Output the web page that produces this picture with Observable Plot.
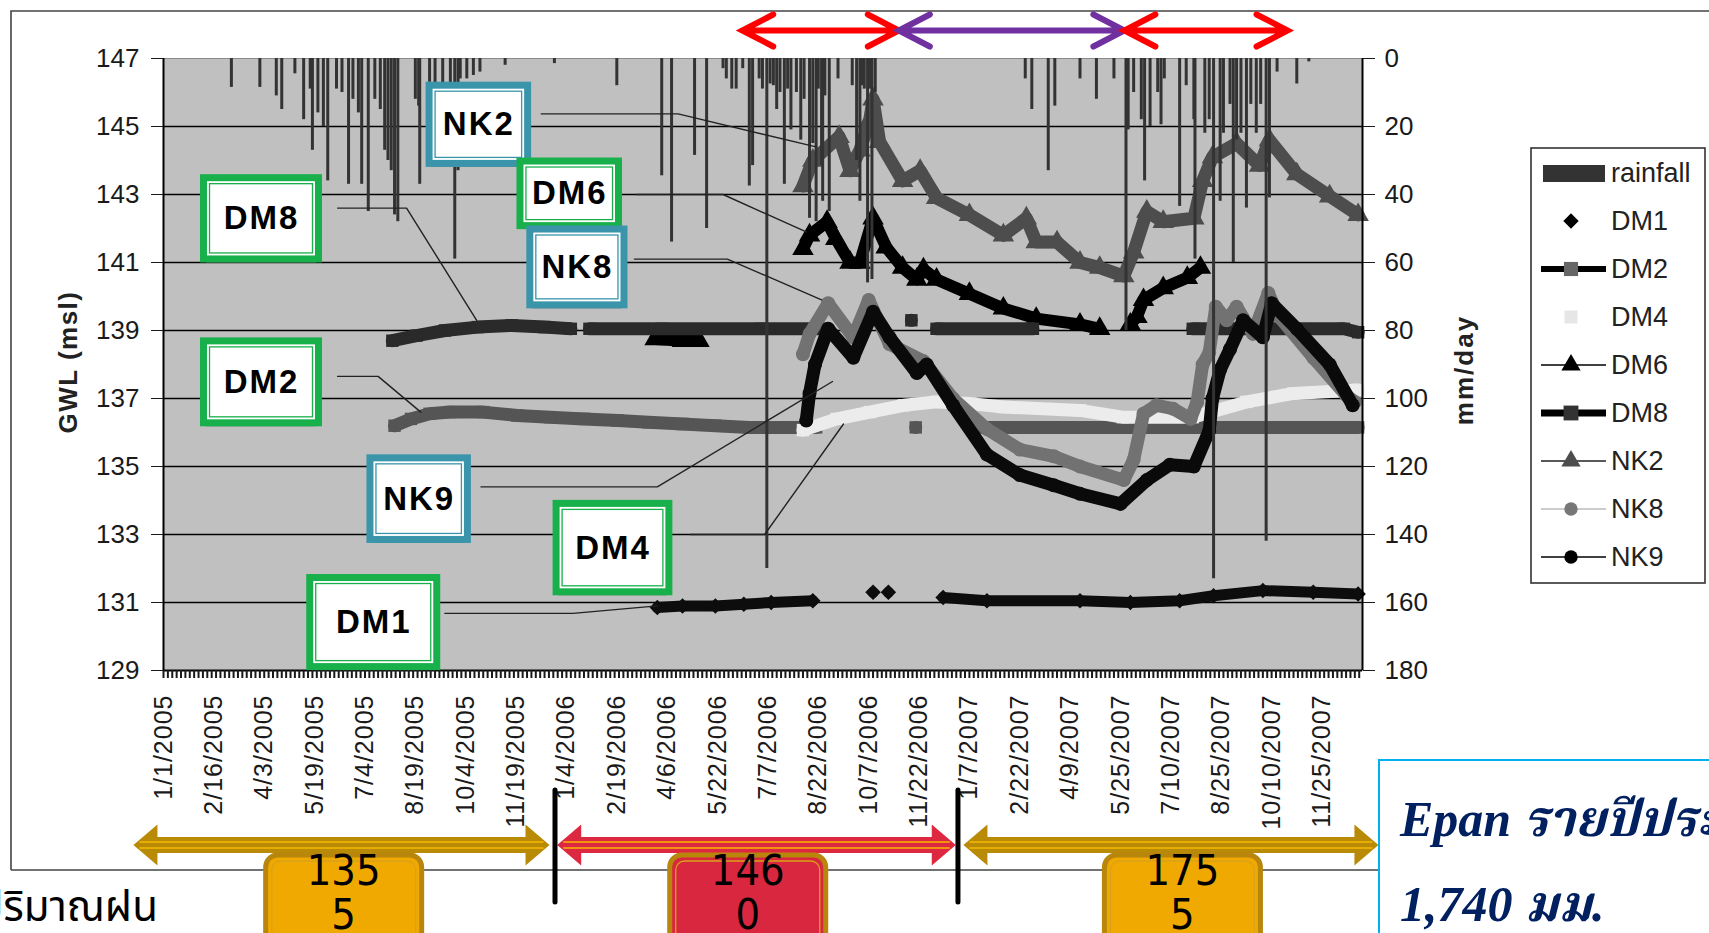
<!DOCTYPE html>
<html><head><meta charset="utf-8">
<script src="https://cdn.jsdelivr.net/npm/d3@7"></script>
<script src="https://cdn.jsdelivr.net/npm/@observablehq/plot@0.6"></script>
<style>
html,body{margin:0;padding:0;background:#fff;overflow:hidden;}
#chart{position:relative;width:1709px;height:933px;overflow:hidden;background:#fff;}
#chart svg{position:absolute;left:0;top:0;}
</style></head><body><div id="chart"></div>
<script>
// ---------------- data ----------------
const xTickLabels = ["1/1/2005","2/16/2005","4/3/2005","5/19/2005","7/4/2005","8/19/2005","10/4/2005","11/19/2005",
  "1/4/2006","2/19/2006","4/6/2006","5/22/2006","7/7/2006","8/22/2006","10/7/2006","11/22/2006",
  "1/7/2007","2/22/2007","4/9/2007","5/25/2007","7/10/2007","8/25/2007","10/10/2007","11/25/2007"];
const gwlTicks = [129,131,133,135,137,139,141,143,145,147];
const rainTicks = [0,20,40,60,80,100,120,140,160,180];

const rainDates = ["2005-03-04","2005-03-30","2005-04-14","2005-04-19","2005-05-01","2005-05-09","2005-05-15","2005-05-17","2005-05-22","2005-05-27","2005-05-31",
 "2005-06-08","2005-06-13","2005-06-19","2005-06-23","2005-06-28","2005-07-01","2005-07-07","2005-07-13","2005-07-18","2005-07-22","2005-07-25","2005-07-28","2005-07-31",
 "2005-08-03","2005-08-19","2005-08-22","2005-08-23","2005-09-01","2005-09-06","2005-09-13","2005-09-20","2005-09-24","2005-09-27","2005-09-29","2005-10-05","2005-10-11",
 "2005-10-17","2005-11-09","2005-12-24","2006-02-19","2006-04-01","2006-04-10","2006-05-01","2006-05-12","2006-05-27","2006-05-30","2006-06-04","2006-06-08","2006-06-14",
 "2006-06-20","2006-06-23","2006-06-29","2006-07-02","2006-07-06","2006-07-09","2006-07-12","2006-07-15","2006-07-18","2006-07-22","2006-07-25","2006-07-28","2006-08-02",
 "2006-08-06","2006-08-09","2006-08-14","2006-08-17","2006-08-20","2006-08-22","2006-08-25","2006-08-26","2006-08-28","2006-09-01","2006-09-09","2006-09-22","2006-09-26",
 "2006-09-29","2006-10-01","2006-10-03","2006-10-06","2006-10-08","2006-10-10","2006-10-13","2007-02-27","2007-03-05","2007-03-20","2007-03-26","2007-04-18","2007-05-03",
 "2007-05-19","2007-05-30","2007-06-01","2007-06-06","2007-06-13","2007-06-16","2007-06-21","2007-06-28","2007-07-01","2007-07-04","2007-07-18","2007-07-24","2007-07-31",
 "2007-08-01","2007-08-10","2007-08-14","2007-08-18","2007-08-24","2007-08-27","2007-09-02","2007-09-05","2007-09-08","2007-09-12","2007-09-17","2007-09-21","2007-09-26",
 "2007-09-30","2007-10-05","2007-10-08","2007-10-15","2007-11-02","2007-11-13"];
const rainMm = [8.5,8.5,11,15,4.5,18,9,27,16,20,36,
 9,10,37,12,16,37,45,12,15,27,30,33,46,
 48,12,14,37,7,18,9,12,59,33,6,6,5,
 4,2,1.5,8,34.5,54,28.5,50,3,6,9,9,3,
 37.5,31.5,6,9,150,7.5,8,15,10,37,9,21,10,
 24,12,47,25,48,9,31.5,42,11,45,6,8,30,
 42,8,9,66,9,65,10,6,15,33,14,6,12,
 6,80,21,10,18,36,20,10,19.5,6,43.5,8,18,
 59,22,18,153,42,22,13.5,60,24,22,44,13.5,22,
 13.5,142,41,4,7.5,1];

const dm1Dates = ["2006-03-28","2006-04-20","2006-05-20","2006-06-15","2006-07-10","2006-08-17","2006-09-15","2006-10-11","2006-10-18","2006-10-25","2006-11-20",
 "2006-12-14","2007-01-23","2007-04-18","2007-06-03","2007-07-18","2007-08-18","2007-10-02","2007-11-17","2007-12-28"];
const dm1Gwl = [130.85,130.9,130.9,130.95,131.0,131.05,null,131.3,null,131.3,null,
 131.15,131.05,131.05,131.0,131.05,131.2,131.35,131.3,131.25];

const dm2Dates = ["2005-07-31","2005-08-15","2005-09-01","2005-09-20","2005-10-20","2005-11-20","2005-12-20","2006-01-20","2006-02-20","2006-03-20","2006-04-20",
 "2006-05-20","2006-06-20","2006-08-20","2006-09-20","2006-11-19","2006-12-20","2007-01-19","2007-12-28"];
const dm2Gwl = [136.2,136.4,136.55,136.6,136.6,136.5,136.45,136.4,136.35,136.3,136.25,
 136.2,136.15,136.15,null,136.15,null,136.15,136.15];

const dm4Dates = ["2006-08-08","2006-09-08","2006-10-08","2006-11-08","2006-12-08","2007-01-08","2007-02-07","2007-04-18","2007-05-27","2007-07-30","2007-09-17","2007-10-30","2007-12-28"];
const dm4Gwl = [136.07,136.4,136.6,136.8,136.9,136.85,136.75,136.65,136.45,136.45,136.9,137.15,137.25];

const dm6Dates = ["2006-03-26","2006-04-20","2006-05-05","2006-06-20","2006-08-08","2006-08-14","2006-08-30","2006-09-07","2006-09-20","2006-09-29","2006-10-11",
 "2006-10-23","2006-11-07","2006-11-20","2006-11-26","2006-12-08","2007-01-07","2007-02-07","2007-03-09","2007-04-18","2007-05-06","2007-05-20",
 "2007-06-03","2007-06-09","2007-06-15","2007-07-03","2007-07-25","2007-08-06"];
const dm6Gwl = [138.75,138.7,138.7,null,141.4,141.8,142.2,141.7,141.0,141.0,142.3,
 141.45,140.85,140.5,140.8,140.5,140.08,139.65,139.35,139.18,139.05,null,
 139.18,139.4,139.9,140.25,140.55,140.85];

const dm8Dates = ["2005-07-29","2005-08-20","2005-09-15","2005-10-15","2005-11-15","2005-12-15","2006-01-08","2006-01-15","2006-01-25","2006-04-01","2006-07-01",
 "2006-08-25","2006-09-20","2006-11-15","2006-11-25","2006-12-08","2007-03-06","2007-05-01","2007-07-30","2007-12-15","2007-12-28"];
const dm8Gwl = [138.7,138.85,139.0,139.1,139.15,139.1,139.05,null,139.05,139.05,139.05,
 139.05,null,139.3,null,139.05,139.05,null,139.05,139.05,138.95];

const nk2Dates = ["2006-08-08","2006-08-17","2006-09-10","2006-09-20","2006-09-29","2006-10-08","2006-10-11","2006-10-17","2006-11-07","2006-11-23","2006-12-08",
 "2007-01-07","2007-02-07","2007-02-28","2007-03-09","2007-03-28","2007-04-18","2007-05-06","2007-05-28","2007-06-06","2007-06-18","2007-07-03","2007-07-31",
 "2007-08-08","2007-08-17","2007-09-08","2007-09-29","2007-10-08","2007-11-02","2007-12-02","2007-12-28"];
const nk2Gwl = [143.25,144.0,144.7,143.7,144.3,145.2,145.8,144.55,143.4,143.7,142.9,
 142.4,141.8,142.3,141.6,141.6,141.0,140.85,140.6,141.3,142.5,142.2,142.3,
 143.4,144.1,144.5,143.85,144.6,143.6,142.95,142.4];

const nk8Dates = ["2006-08-08","2006-08-14","2006-08-31","2006-09-23","2006-10-07","2006-10-26","2006-11-26","2006-12-23","2007-01-23","2007-02-22","2007-03-25",
 "2007-04-18","2007-05-28","2007-06-06","2007-06-15","2007-06-27","2007-07-12","2007-07-28","2007-08-03","2007-08-08","2007-08-14","2007-08-20","2007-08-30",
 "2007-09-08","2007-09-23","2007-10-07","2007-10-17","2007-11-17","2007-12-17","2007-12-25"];
const nk8Gwl = [138.3,138.9,139.8,138.8,139.9,138.6,138.1,137.0,136.1,135.5,135.3,
 135.0,134.6,135.2,136.55,136.8,136.7,136.4,136.9,138.0,138.35,139.7,139.3,
 139.7,138.9,140.1,139.4,138.2,137.1,136.9];

const nk9Dates = ["2006-08-11","2006-08-14","2006-08-19","2006-08-31","2006-09-23","2006-10-11","2006-10-26","2006-11-20","2006-11-29","2006-12-23","2007-01-23",
 "2007-02-22","2007-03-25","2007-04-18","2007-05-25","2007-06-18","2007-07-09","2007-07-31","2007-08-14","2007-08-17","2007-08-24","2007-09-02",
 "2007-09-14","2007-10-02","2007-10-10","2007-11-02","2007-12-02","2007-12-23"];
const nk9Gwl = [136.35,137.15,138.0,139.05,138.2,139.55,138.8,137.75,138.0,136.8,135.35,
 134.75,134.45,134.2,133.9,134.6,135.05,135.0,136.05,137.0,137.85,138.45,
 139.3,138.8,139.8,139.05,138.0,136.8];

// callout boxes (data space) and their leader lines
const calloutNames  = ["NK2","DM6","NK8","DM8","DM2","NK9","DM4","DM1"];
const calloutFrom   = ["2005-09-01","2005-11-23","2005-12-02","2005-02-07","2005-02-07","2005-07-09","2005-12-26","2005-05-15"];
const calloutTo     = ["2005-11-30","2006-02-21","2006-02-26","2005-05-23","2005-05-23","2005-10-06","2006-04-08","2005-09-08"];
const calloutTop    = [146.2,143.97,141.97,143.48,138.68,135.24,133.9,131.72];
const calloutBottom = [143.9,142.07,139.74,141.09,136.27,132.84,131.3,129.1];
const leaderNames = ["NK2","NK2","NK2","DM6","DM6","DM6","NK8","NK8","NK8","DM8","DM8","DM8","DM2","DM2","DM2","NK9","NK9","NK9","DM4","DM4","DM4","DM1","DM1","DM1"];
const leaderDates = ["2005-12-12","2006-04-16","2006-08-20","2006-03-09","2006-05-27","2006-08-11","2006-03-07","2006-05-31","2006-08-25",
 "2005-06-09","2005-08-11","2005-10-14","2005-06-09","2005-07-16","2005-08-24","2005-10-18","2006-03-28","2006-09-04",
 "2006-04-27","2006-07-04","2006-09-14","2005-09-15","2006-01-10","2006-03-28"];
const leaderGwl = [145.37,145.37,144.4,143.0,143.0,141.9,141.1,141.1,139.9,142.6,142.6,139.3,137.65,137.65,136.6,134.4,134.4,137.5,133.0,133.0,136.25,130.68,130.68,130.9];

// season arrows (top) and yearly rainfall (bottom)
const seasonStart = ["2006-06-14","2006-11-04","2007-05-29"];
const seasonEnd   = ["2006-11-04","2007-05-29","2007-10-25"];
const seasonKind  = ["wet","dry","wet"];
const yearArrowStart = ["2004-12-05","2005-12-27","2007-01-02"];
const yearArrowEnd   = ["2005-12-20","2006-12-26","2008-01-16"];
const yearBoxCenter  = ["2005-06-15","2006-06-19","2007-07-21"];
const yearRainfall   = ["1355","1460","1755"];
const yearSeparators = ["2005-12-25","2006-12-28"];
const legendNames = ["rainfall","DM1","DM2","DM4","DM6","DM8","NK2","NK8","NK9"];

// ---------------- build ----------------
const P = s => new Date(s + "T00:00:00Z");
const PL = s => { const [m, d, y] = s.split("/").map(Number); return new Date(Date.UTC(y, m - 1, d)); };
const gMin = 129, gMax = 147, rMax = 180;
const rainToGwl = mm => gMax - mm * (gMax - gMin) / rMax;

const rows = (name, dates, vals) => dates.map((d, i) => ({name, date: P(d), v: vals[i] == null ? NaN : vals[i]}));
const series = [
  ["DM1", rows("DM1", dm1Dates, dm1Gwl)],
  ["DM2", rows("DM2", dm2Dates, dm2Gwl)],
  ["DM4", rows("DM4", dm4Dates, dm4Gwl)],
  ["DM6", rows("DM6", dm6Dates, dm6Gwl)],
  ["DM8", rows("DM8", dm8Dates, dm8Gwl)],
  ["NK2", rows("NK2", nk2Dates, nk2Gwl)],
  ["NK8", rows("NK8", nk8Dates, nk8Gwl)],
  ["NK9", rows("NK9", nk9Dates, nk9Gwl)]
];
const style = {
  DM1: {stroke: "#0d0d0d", w: 11, symbol: "diamond2", r: 7},
  DM2: {stroke: "#555555", w: 13, symbol: "square", r: 7},
  DM4: {stroke: "#ececec", w: 13, symbol: "square", r: 7},
  DM6: {stroke: "#000000", w: 12, symbol: "triangle", r: 8},
  DM8: {stroke: "#2a2a2a", w: 13, symbol: "square", r: 7},
  NK2: {stroke: "#4d4d4d", w: 13, symbol: "triangle", r: 8},
  NK8: {stroke: "#727272", w: 13, symbol: "circle", r: 7},
  NK9: {stroke: "#0a0a0a", w: 13, symbol: "circle", r: 7}
};
const rain = rainDates.map((d, i) => ({date: P(d), mm: rainMm[i]}));
const callouts = calloutNames.map((n, i) => ({name: n, x1: P(calloutFrom[i]), x2: P(calloutTo[i]), y1: calloutBottom[i], y2: calloutTop[i],
  xm: new Date((P(calloutFrom[i]).getTime() + P(calloutTo[i]).getTime()) / 2), ym: (calloutBottom[i] + calloutTop[i]) / 2}));
const leaders = leaderNames.map((n, i) => ({name: n, date: P(leaderDates[i]), v: leaderGwl[i]}));
const boxColor = n => n.startsWith("NK") ? "#3a95ab" : "#18b04a";
const xTickDates = xTickLabels.map(PL);
const labelOf = new Map(xTickDates.map((d, i) => [+d, xTickLabels[i]]));
const xStart = P("2005-01-01"), xEnd = P("2008-01-01");
const minorTicks = d3.utcDay.range(xStart, xEnd, 4);
const font = "Liberation Sans, Arial, sans-serif";

const marks = [
  Plot.frame({fill: "#c0c0c0", stroke: "#8a8a8a"}),
  Plot.ruleY(gwlTicks.filter(v => v > gMin && v < gMax), {stroke: "#000", strokeWidth: 1.3})
];
for (const [name, data] of series) {
  const s = style[name];
  marks.push(Plot.line(data, {x: "date", y: "v", stroke: s.stroke, strokeWidth: s.w, strokeLinejoin: "round", strokeLinecap: "round"}));
  marks.push(Plot.dot(data.filter(d => !isNaN(d.v)), {x: "date", y: "v", symbol: s.symbol, r: s.r, fill: s.stroke}));
}
marks.push(
  Plot.ruleX(rain, {x: "date", y1: gMax, y2: d => rainToGwl(d.mm), stroke: "#333", strokeWidth: 3}),
  Plot.ruleY([gMin], {stroke: "#000", strokeWidth: 2}),
  Plot.ruleX([xStart, xEnd], {stroke: "#000", strokeWidth: 2}),
  Plot.axisY({anchor: "left", ticks: gwlTicks, tickSize: 12, tickPadding: 12, fontSize: 26, label: null, fontFamily: font}),
  Plot.axisY({anchor: "right", ticks: rainTicks.map(rainToGwl), tickFormat: v => String(Math.round((gMax - v) * rMax / (gMax - gMin))),
    tickSize: 12, tickPadding: 10, fontSize: 26, label: null, fontFamily: font}),
  Plot.axisX({ticks: minorTicks, tickSize: 8, tickFormat: () => "", strokeWidth: 2, label: null}),
  Plot.axisX({ticks: xTickDates, tickFormat: d => labelOf.get(+d), tickRotate: -90, tickSize: 0, tickPadding: 24, fontSize: 25, label: null, fontFamily: font}),
  Plot.line(leaders, {x: "date", y: "v", z: "name", stroke: "#222", strokeWidth: 1.4}),
  Plot.rect(callouts, {x1: "x1", x2: "x2", y1: "y1", y2: "y2", fill: "#fff", stroke: "#777", strokeWidth: 1, dy: 6, inset: 3}),
  Plot.rect(callouts, {x1: "x1", x2: "x2", y1: "y1", y2: "y2", fill: "#fff", stroke: d => boxColor(d.name), strokeWidth: 7}),
  Plot.rect(callouts, {x1: "x1", x2: "x2", y1: "y1", y2: "y2", fill: "none", stroke: d => boxColor(d.name), strokeWidth: 1.3, inset: 6}),
  Plot.text(callouts, {x: "xm", y: "ym", text: "name", fontSize: 33, fontWeight: "bold", fill: "#000", fontFamily: font})
);

const plot = Plot.plot({
  width: 1709, height: 933,
  marginLeft: 163, marginRight: 347, marginTop: 58, marginBottom: 263,
  x: {type: "utc", domain: [xStart, xEnd]},
  y: {domain: [gMin, gMax]},
  style: {background: "transparent", overflow: "visible", fontFamily: font, color: "#1a1a1a"},
  marks
});
document.getElementById("chart").appendChild(plot);

const svg = d3.select(plot);
svg.selectAll("g[aria-label='x-axis tick label'] text").attr("letter-spacing", 1);
svg.selectAll("g[aria-label='text'] text").attr("letter-spacing", 2);
const xs = plot.scale("x");
const X = s => xs.apply(P(s));
const g = svg.append("g").attr("text-anchor", "start");

// outer frame
g.append("path").attr("d", "M11,870V11H1709 M11,870H1379").attr("fill", "none").attr("stroke", "#444").attr("stroke-width", 1.6);

// axis titles
g.append("text").attr("transform", "translate(70,362) rotate(-90)").attr("text-anchor", "middle").attr("dominant-baseline", "middle")
  .attr("font-family", font).attr("font-weight", "bold").attr("font-size", 26).attr("letter-spacing", 1.5).attr("fill", "#222").text("GWL (msl)");
g.append("text").attr("transform", "translate(1466,370) rotate(-90)").attr("text-anchor", "middle").attr("dominant-baseline", "middle")
  .attr("font-family", font).attr("font-weight", "bold").attr("font-size", 26).attr("letter-spacing", 2).attr("fill", "#222").text("mm/day");

// season arrows
const seasonColor = {wet: "#ff0000", dry: "#7030a0"};
seasonStart.forEach((s, i) => {
  const x1 = X(s), x2 = X(seasonEnd[i]), y = 30.5, ax = 31, ay = 16;
  g.append("path").attr("d", `M${x1},${y}H${x2}M${x1 + ax},${y - ay}L${x1},${y}L${x1 + ax},${y + ay}M${x2 - ax},${y - ay}L${x2},${y}L${x2 - ax},${y + ay}`)
    .attr("fill", "none").attr("stroke", seasonColor[seasonKind[i]]).attr("stroke-width", 6).attr("stroke-linecap", "round");
});

// yearly arrows
const yearFill = ["#b98a06", "#dc2840", "#b98a06"];
const yearBox = ["#f0a900", "#d9273f", "#f0a900"];
yearArrowStart.forEach((s, i) => {
  const a = X(s), b = X(yearArrowEnd[i]), cy = 845, h = 24, sh = 8, hh = 20.5;
  g.append("path").attr("d", `M${a},${cy}L${a + h},${cy - hh}L${a + h},${cy - sh}L${b - h},${cy - sh}L${b - h},${cy - hh}L${b},${cy}L${b - h},${cy + hh}L${b - h},${cy + sh}L${a + h},${cy + sh}L${a + h},${cy + hh}Z`)
    .attr("fill", yearFill[i]);
  [-3, 3].forEach(o => g.append("line").attr("x1", a + 6).attr("x2", b - 6).attr("y1", cy + o).attr("y2", cy + o)
    .attr("stroke", "#f7b900").attr("stroke-width", 1.3));
});
yearSeparators.forEach(s => g.append("line").attr("x1", X(s)).attr("x2", X(s)).attr("y1", 790).attr("y2", 902)
  .attr("stroke", "#000").attr("stroke-width", 5).attr("stroke-linecap", "round"));
const boxFont = "Liberation Sans Narrow, DejaVu Sans Condensed, " + font;
yearBoxCenter.forEach((s, i) => {
  const cx = X(s);
  g.append("rect").attr("x", cx - 78).attr("y", 855).attr("width", 156).attr("height", 110).attr("rx", 12)
    .attr("fill", yearBox[i]).attr("stroke", "#b8860b").attr("stroke-width", 5);
  g.append("rect").attr("x", cx - 72).attr("y", 861).attr("width", 144).attr("height", 100).attr("rx", 9)
    .attr("fill", "none").attr("stroke", "#d9a21a").attr("stroke-width", 1.3);
  const t = yearRainfall[i];
  g.append("text").attr("x", cx).attr("y", 885).attr("text-anchor", "middle").attr("font-family", boxFont)
    .attr("font-size", 43).attr("fill", "#000").text(t.slice(0, 3));
  g.append("text").attr("x", cx).attr("y", 929).attr("text-anchor", "middle").attr("font-family", boxFont)
    .attr("font-size", 43).attr("fill", "#000").text(t.slice(3));
});

// Thai caption (cut at left edge)
g.append("text").attr("x", 158).attr("y", 921).attr("text-anchor", "end")
  .attr("font-family", "Noto Sans Thai, Noto Serif Thai, Loma, Garuda, Tlwg Typo, sans-serif").attr("font-size", 42).attr("fill", "#000").text("ปริมาณฝน");

// Epan box
g.append("rect").attr("x", 1379).attr("y", 760).attr("width", 400).attr("height", 300).attr("fill", "#fff").attr("stroke", "#00b0f0").attr("stroke-width", 2);
[["Epan รายปีประมาณ", 836], ["1,740 มม.", 921]].forEach(([t, y]) => g.append("text").attr("x", 1400).attr("y", y).attr("text-anchor", "start")
  .attr("font-family", "Liberation Serif, Times New Roman, Noto Serif Thai, serif").attr("font-style", "italic").attr("font-weight", "bold")
  .attr("font-size", 50).attr("fill", "#002060").text(t));

// legend
g.append("rect").attr("x", 1531).attr("y", 148).attr("width", 174).attr("height", 435).attr("fill", "#fff").attr("stroke", "#333").attr("stroke-width", 1.6);
const legendStyle = {
  rainfall: {rain: true},
  DM1: {sym: d3.symbolDiamond2, size: 150, fill: "#000"},
  DM2: {line: "#000", lw: 6, sym: d3.symbolSquare, size: 200, fill: "#666"},
  DM4: {sym: d3.symbolSquare, size: 170, fill: "#e6e6e6"},
  DM6: {line: "#000", lw: 1.5, sym: d3.symbolTriangle, size: 160, fill: "#000"},
  DM8: {line: "#000", lw: 7, sym: d3.symbolSquare, size: 220, fill: "#333"},
  NK2: {line: "#222", lw: 1.5, sym: d3.symbolTriangle, size: 160, fill: "#4d4d4d"},
  NK8: {line: "#bbb", lw: 1.5, sym: d3.symbolCircle, size: 140, fill: "#777"},
  NK9: {line: "#000", lw: 1.5, sym: d3.symbolCircle, size: 140, fill: "#000"}
};
legendNames.forEach((n, i) => {
  const cy = 173 + i * 48, st = legendStyle[n];
  if (st.rain) g.append("rect").attr("x", 1543).attr("y", cy - 8).attr("width", 62).attr("height", 17).attr("fill", "#333");
  if (st.line) g.append("line").attr("x1", 1541).attr("x2", 1606).attr("y1", cy).attr("y2", cy).attr("stroke", st.line).attr("stroke-width", st.lw);
  if (st.sym) g.append("path").attr("transform", `translate(1571,${cy})`).attr("d", d3.symbol(st.sym, st.size)()).attr("fill", st.fill);
  g.append("text").attr("x", 1611).attr("y", cy).attr("dy", "0.35em").attr("text-anchor", "start").attr("font-family", font)
    .attr("font-size", 27).attr("fill", "#222").text(n);
});
</script></body></html>
